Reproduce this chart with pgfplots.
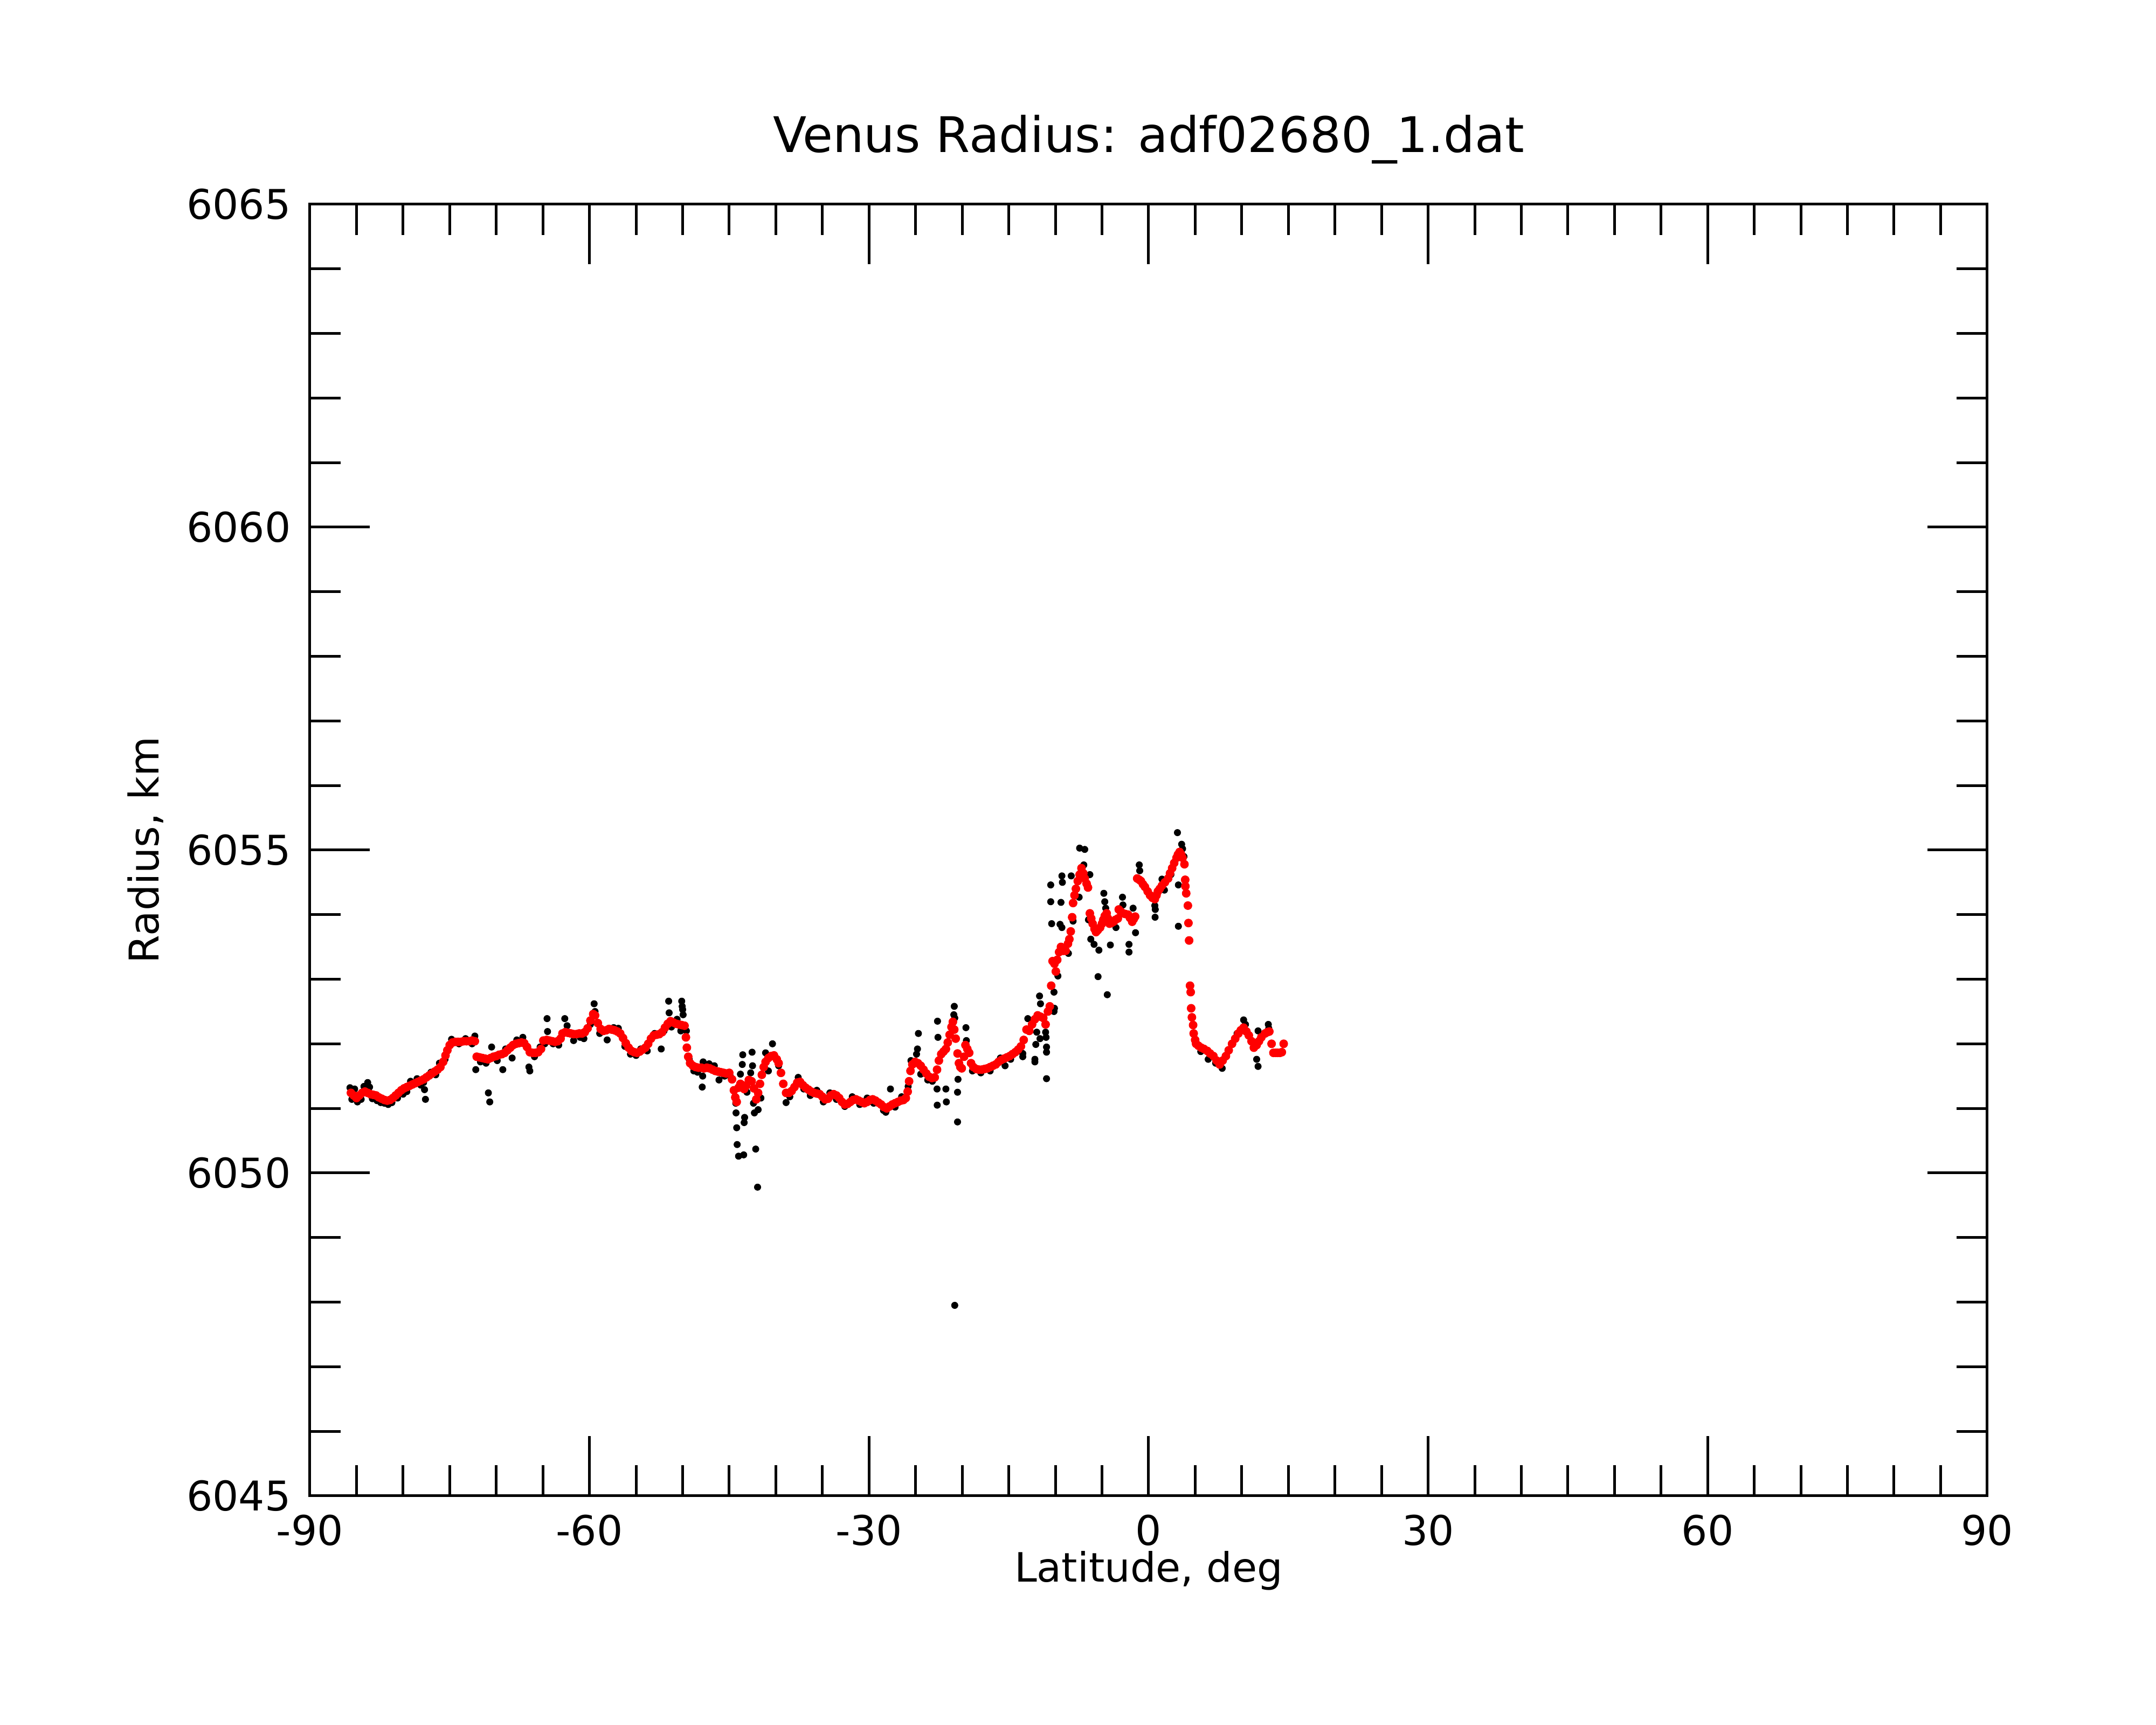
\documentclass[border=0pt]{standalone}
\usepackage{fontspec}
\setmainfont{DejaVu Sans}
\usepackage{pgfplots}
\usepackage{pgfplotstable}
\pgfplotsset{compat=1.18}

\pgfplotstableread{
lat R
-85.6 6051.24
-85.3 6051.20
-85.0 6051.16
-84.7 6051.20
-84.4 6051.24
-84.1 6051.26
-83.8 6051.24
-83.5 6051.22
-83.2 6051.21
-82.9 6051.20
-82.6 6051.17
-82.3 6051.15
-82.0 6051.13
-81.7 6051.12
-81.4 6051.13
-81.1 6051.16
-80.8 6051.20
-80.5 6051.24
-80.2 6051.28
-79.9 6051.31
-79.6 6051.33
-79.3 6051.35
-79.0 6051.37
-78.7 6051.39
-78.4 6051.41
-78.1 6051.43
-77.8 6051.45
-77.5 6051.48
-77.2 6051.51
-76.9 6051.54
-76.6 6051.57
-76.3 6051.60
-76.0 6051.64
-75.7 6051.72
-75.45 6051.82
-75.25 6051.90
-75.0 6051.98
-74.7 6052.02
-74.4 6052.03
-74.1 6052.03
-73.8 6052.03
-73.5 6052.04
-73.2 6052.04
-72.9 6052.04
-72.6 6052.05
-72.3 6052.04
-72.1 6051.80
-71.8 6051.79
-71.5 6051.78
-71.2 6051.77
-70.9 6051.76
-70.6 6051.78
-70.3 6051.80
-70.0 6051.81
-69.7 6051.83
-69.4 6051.84
-69.1 6051.86
-68.8 6051.90
-68.5 6051.94
-68.2 6051.98
-67.9 6052.00
-67.6 6052.01
-67.3 6052.02
-67.0 6052.01
-66.7 6051.95
-66.4 6051.87
-66.1 6051.86
-65.8 6051.86
-65.5 6051.87
-65.2 6051.92
-64.95 6052.05
-64.6 6052.06
-64.3 6052.05
-64.0 6052.04
-63.7 6052.03
-63.4 6052.04
-63.1 6052.08
-62.9 6052.16
-62.6 6052.18
-62.3 6052.17
-62.0 6052.16
-61.7 6052.15
-61.4 6052.15
-61.1 6052.16
-60.8 6052.16
-60.5 6052.18
-60.2 6052.24
-59.9 6052.36
-59.6 6052.46
-59.4 6052.44
-59.1 6052.32
-58.8 6052.23
-58.5 6052.20
-58.2 6052.21
-57.9 6052.23
-57.6 6052.22
-57.3 6052.21
-57.0 6052.19
-56.7 6052.16
-56.4 6052.09
-56.1 6052.01
-55.8 6051.94
-55.5 6051.89
-55.2 6051.87
-54.9 6051.86
-54.6 6051.88
-54.3 6051.91
-54.0 6051.94
-53.7 6052.00
-53.4 6052.08
-53.1 6052.13
-52.8 6052.14
-52.5 6052.15
-52.2 6052.18
-51.9 6052.25
-51.6 6052.31
-51.3 6052.35
-51.0 6052.33
-50.7 6052.31
-50.4 6052.30
-50.1 6052.29
-49.8 6052.28
-49.65 6052.10
-49.55 6051.94
-49.4 6051.80
-49.2 6051.70
-48.9 6051.66
-48.6 6051.64
-48.3 6051.63
-48.0 6051.63
-47.7 6051.62
-47.4 6051.63
-47.1 6051.62
-46.8 6051.60
-46.5 6051.58
-46.2 6051.57
-45.9 6051.56
-45.6 6051.55
-45.3 6051.54
-45.0 6051.55
-44.7 6051.45
-44.5 6051.28
-44.35 6051.17
-44.2 6051.10
-44.0 6051.32
-43.8 6051.38
-43.6 6051.36
-43.4 6051.30
-43.2 6051.35
-42.9 6051.44
-42.6 6051.42
-42.35 6051.31
-42.1 6051.14
-41.9 6051.24
-41.7 6051.38
-41.5 6051.52
-41.3 6051.64
-41.1 6051.72
-40.8 6051.78
-40.5 6051.81
-40.2 6051.82
-39.9 6051.76
-39.7 6051.70
-39.45 6051.55
-39.2 6051.38
-38.9 6051.24
-38.6 6051.24
-38.3 6051.27
-38.0 6051.33
-37.7 6051.40
-37.4 6051.41
-37.1 6051.36
-36.8 6051.32
-36.5 6051.29
-36.2 6051.26
-35.9 6051.24
-35.6 6051.23
-35.3 6051.22
-35.0 6051.18
-34.7 6051.14
-34.4 6051.15
-34.1 6051.20
-33.8 6051.22
-33.5 6051.20
-33.2 6051.16
-32.9 6051.10
-32.6 6051.06
-32.3 6051.07
-32.0 6051.10
-31.7 6051.13
-31.4 6051.14
-31.1 6051.12
-30.8 6051.10
-30.5 6051.08
-30.2 6051.10
-29.9 6051.13
-29.6 6051.14
-29.3 6051.12
-29.0 6051.09
-28.7 6051.06
-28.4 6051.02
-28.1 6051.00
-27.8 6051.03
-27.5 6051.06
-27.2 6051.08
-26.9 6051.10
-26.6 6051.12
-26.3 6051.13
-26.05 6051.16
-25.85 6051.26
-25.7 6051.42
-25.55 6051.58
-25.35 6051.68
-25.05 6051.72
-24.75 6051.70
-24.45 6051.66
-24.15 6051.60
-23.85 6051.54
-23.55 6051.49
-23.25 6051.47
-22.95 6051.48
-22.7 6051.60
-22.5 6051.74
-22.25 6051.84
-22.0 6051.88
-21.75 6051.92
-21.55 6052.02
-21.35 6052.14
-21.15 6052.26
-21.0 6052.34
-20.85 6052.22
-20.7 6052.08
-20.5 6051.85
-20.35 6051.70
-20.2 6051.64
-20.05 6051.62
-19.8 6051.80
-19.65 6051.98
-19.45 6051.92
-19.25 6051.86
-19.05 6051.70
-18.8 6051.64
-18.5 6051.61
-18.2 6051.60
-17.9 6051.60
-17.6 6051.61
-17.3 6051.62
-17.0 6051.64
-16.7 6051.66
-16.4 6051.68
-16.1 6051.72
-15.8 6051.75
-15.5 6051.77
-15.2 6051.79
-14.9 6051.81
-14.6 6051.84
-14.3 6051.87
-14.0 6051.91
-13.7 6051.96
-13.4 6052.06
-13.1 6052.22
-12.8 6052.20
-12.5 6052.30
-12.2 6052.38
-11.9 6052.44
-11.6 6052.42
-11.3 6052.40
-11.05 6052.30
-10.8 6052.50
-10.6 6052.58
-10.45 6052.90
-10.3 6053.28
-10.1 6053.24
-9.95 6053.12
-9.8 6053.30
-9.6 6053.42
-9.4 6053.50
-9.15 6053.44
-8.9 6053.44
-8.65 6053.55
-8.5 6053.62
-8.35 6053.74
-8.2 6053.96
-8.1 6054.18
-7.95 6054.30
-7.8 6054.40
-7.6 6054.52
-7.4 6054.62
-7.2 6054.72
-7.0 6054.64
-6.85 6054.56
-6.65 6054.48
-6.5 6054.42
-6.3 6054.02
-6.15 6053.94
-6.0 6053.86
-5.8 6053.78
-5.64 6053.73
-5.45 6053.76
-5.2 6053.80
-5.0 6053.86
-4.86 6053.92
-4.7 6053.98
-4.5 6054.02
-4.35 6053.94
-4.19 6053.86
-4.0 6053.87
-3.76 6053.89
-3.55 6053.92
-3.3 6053.94
-3.2 6054.08
-3.0 6054.05
-2.75 6054.02
-2.5 6054.01
-2.2 6054.00
-2.0 6053.95
-1.76 6053.89
-1.6 6053.93
-1.44 6053.97
-1.22 6054.56
-1.0 6054.54
-0.82 6054.52
-0.6 6054.47
-0.39 6054.43
-0.1 6054.36
0.16 6054.30
0.42 6054.26
0.67 6054.24
0.85 6054.30
1.0 6054.36
1.2 6054.40
1.44 6054.45
1.75 6054.50
2.1 6054.56
2.3 6054.64
2.53 6054.72
2.75 6054.80
3.0 6054.88
3.15 6054.93
3.33 6054.97
3.5 6054.93
3.64 6054.88
3.85 6054.78
3.93 6054.54
3.95 6054.44
4.04 6054.33
4.22 6054.14
4.28 6053.87
4.35 6053.60
4.45 6052.90
4.52 6052.80
4.57 6052.55
4.65 6052.41
4.78 6052.29
4.84 6052.16
5.0 6052.06
5.1 6052.00
5.35 6051.97
5.65 6051.94
5.95 6051.92
6.3 6051.89
6.6 6051.85
6.96 6051.81
7.3 6051.74
7.63 6051.68
7.95 6051.74
8.3 6051.81
8.6 6051.90
8.96 6052.00
9.3 6052.08
9.64 6052.16
9.9 6052.21
10.2 6052.25
10.5 6052.19
10.76 6052.13
11.05 6052.04
11.3 6051.94
11.6 6051.98
11.85 6052.04
12.1 6052.10
12.5 6052.16
12.75 6052.18
12.96 6052.19
13.2 6052.00
13.4 6051.86
13.65 6051.86
13.85 6051.86
14.1 6051.86
14.3 6051.87
14.5 6052.00
}\smoothed

\pgfplotstableread{
lat R
-85.7 6051.32
-85.5 6051.14
-85.2 6051.30
-84.9 6051.10
-84.5 6051.14
-84.2 6051.34
-83.8 6051.40
-83.6 6051.33
-83.3 6051.15
-82.8 6051.12
-82.4 6051.09
-82.0 6051.08
-81.6 6051.06
-81.2 6051.09
-80.6 6051.16
-80.0 6051.22
-79.6 6051.26
-79.2 6051.42
-78.5 6051.46
-78.1 6051.36
-77.8 6051.40
-77.7 6051.29
-77.6 6051.14
-77.0 6051.56
-76.5 6051.52
-76.1 6051.70
-75.5 6051.76
-74.8 6052.07
-74.0 6052.00
-73.3 6052.08
-72.6 6052.00
-72.3 6052.12
-72.2 6051.60
-71.7 6051.72
-71.1 6051.70
-70.85 6051.24
-70.7 6051.10
-70.5 6051.95
-69.9 6051.74
-69.3 6051.60
-69.0 6051.92
-68.3 6051.78
-67.8 6052.06
-67.15 6052.10
-66.5 6051.64
-66.4 6051.58
-65.9 6051.80
-65.3 6051.95
-64.8 6052.00
-64.55 6052.39
-64.5 6052.19
-63.9 6052.00
-63.3 6051.98
-62.65 6052.39
-62.4 6052.28
-61.7 6052.05
-61.0 6052.10
-60.6 6052.08
-59.9 6052.30
-59.5 6052.62
-59.4 6052.50
-58.9 6052.16
-58.1 6052.06
-57.4 6052.25
-56.9 6052.24
-56.2 6051.96
-55.6 6051.84
-55.0 6051.82
-54.5 6051.92
-53.8 6051.89
-53.0 6052.16
-52.3 6051.92
-52.0 6052.20
-51.5 6052.66
-51.45 6052.48
-51.2 6052.26
-50.6 6052.38
-50.1 6052.66
-50.05 6052.58
-50.0 6052.53
-49.95 6052.45
-50.2 6052.20
-49.6 6052.20
-49.3 6051.76
-48.8 6051.58
-48.4 6051.56
-47.9 6051.33
-47.85 6051.50
-47.8 6051.72
-47.16 6051.69
-46.6 6051.66
-46.1 6051.44
-45.5 6051.50
-44.9 6051.50
-44.3 6051.08
-44.27 6050.93
-44.2 6050.70
-44.15 6050.44
-44.0 6050.26
-43.45 6050.28
-43.4 6050.78
-43.35 6050.86
-43.55 6051.83
-43.6 6051.68
-43.8 6051.53
-43.1 6051.25
-42.55 6051.87
-42.5 6051.66
-42.7 6051.55
-42.4 6051.08
-42.3 6050.93
-41.9 6050.98
-42.16 6050.37
-41.96 6049.78
-41.6 6051.16
-41.1 6051.86
-40.36 6052.00
-40.8 6051.58
-39.7 6051.66
-38.9 6051.09
-38.5 6051.18
-37.6 6051.48
-37.0 6051.30
-36.3 6051.20
-35.6 6051.28
-34.9 6051.10
-34.2 6051.24
-33.5 6051.14
-32.6 6051.03
-31.8 6051.18
-31.0 6051.06
-30.2 6051.16
-29.5 6051.08
-28.45 6050.97
-28.2 6050.94
-27.7 6051.30
-27.2 6051.02
-26.5 6051.18
-25.8 6051.34
-25.5 6051.74
-24.7 6052.16
-24.8 6051.92
-24.9 6051.84
-24.45 6051.53
-23.7 6051.44
-23.2 6051.42
-22.65 6052.35
-22.6 6052.10
-22.7 6051.30
-22.68 6051.05
-21.75 6051.30
-21.7 6051.10
-20.85 6052.58
-20.9 6052.45
-20.8 6052.40
-20.5 6050.79
-20.5 6051.25
-20.45 6051.45
-20.8 6047.95
-19.6 6052.25
-19.55 6052.05
-18.9 6051.58
-18.0 6051.55
-17.0 6051.58
-15.9 6051.78
-15.4 6051.66
-14.8 6051.76
-13.5 6051.80
-13.5 6051.85
-12.96 6052.39
-12.5 6052.33
-12.2 6051.72
-12.2 6051.76
-12.1 6051.99
-12.0 6052.18
-11.7 6052.74
-11.6 6052.62
-11.65 6052.08
-11.05 6052.18
-11.0 6052.10
-10.95 6051.87
-10.95 6051.95
-10.95 6051.46
-10.15 6052.80
-10.1 6052.55
-10.15 6052.50
-9.73 6053.05
-10.4 6053.86
-10.5 6054.46
-10.5 6054.20
-9.5 6053.85
-9.3 6053.80
-9.3 6054.60
-9.25 6054.50
-9.4 6054.19
-8.3 6054.60
-8.6 6053.40
-8.1 6053.90
-7.4 6055.03
-6.85 6055.01
-6.95 6054.77
-7.45 6054.27
-6.3 6054.62
-6.45 6053.92
-6.2 6053.62
-5.85 6053.54
-5.33 6053.45
-5.42 6053.04
-4.8 6054.33
-4.7 6054.20
-4.43 6052.76
-4.1 6053.53
-4.6 6054.10
-3.5 6053.80
-2.8 6054.27
-2.75 6054.15
-2.1 6053.54
-2.1 6053.42
-1.66 6054.10
-1.4 6053.72
-1.0 6054.77
-0.95 6054.68
0.1 6054.30
0.67 6054.14
0.7 6053.96
0.72 6054.08
1.44 6054.55
1.7 6054.38
2.4 6054.62
3.1 6055.27
3.55 6055.09
3.65 6055.02
3.8 6054.90
3.2 6054.46
3.2 6053.82
5.6 6051.88
6.4 6051.76
7.2 6051.70
7.9 6051.62
9.5 6052.16
10.2 6052.37
10.4 6052.30
11.75 6052.20
11.6 6051.76
11.75 6051.65
12.85 6052.30
12.9 6052.24
}\raw

\begin{document}
\begin{tikzpicture}
\begin{axis}[
  scale only axis,
  width=311.2pt, height=239.6pt,
  at={(0pt,0pt)}, anchor=south west,
  xmin=-90, xmax=90, ymin=6045, ymax=6065,
  xtick={-90,-60,-30,0,30,60,90},
  xticklabels={-90,-60,-30,0,30,60,90},
  minor x tick num=5,
  ytick={6045,6050,6055,6060,6065},
  yticklabels={6045,6050,6055,6060,6065},
  minor y tick num=4,
  tick align=inside,
  major tick length=11.1pt,
  minor tick length=5.7pt,
  every tick/.style={black, line width=0.5pt},
  axis line style={black, line width=0.5pt},
  tick label style={font=\fontsize{7.6}{9}\selectfont},
  every axis title shift=0pt,
  title={Venus Radius: adf02680\_1.dat},
  title style={at={(axis description cs:0.5,1.0401)}, anchor=base, font=\fontsize{9.1}{11}\selectfont},
  xlabel={Latitude, deg},
  xlabel style={at={(axis description cs:0.5,-0.0668)}, anchor=base, font=\fontsize{7.5}{9}\selectfont},
  ylabel={Radius, km},
  ylabel style={at={(axis description cs:-0.0900,0.5)}, anchor=base, font=\fontsize{7.6}{9}\selectfont},
  clip=false,
]
\addplot[only marks, mark=*, mark size=0.6pt, mark options={draw=black, fill=black, line width=0.1pt}] table[x=lat, y=R] {\raw};
\addplot[only marks, mark=*, mark size=0.75pt, mark options={draw=red, fill=red, line width=0.1pt}] table[x=lat, y=R] {\smoothed};
\end{axis}
\path[use as bounding box] (-57.5pt,-42.5pt) rectangle (342.5pt,277.5pt);
\end{tikzpicture}
\end{document}
